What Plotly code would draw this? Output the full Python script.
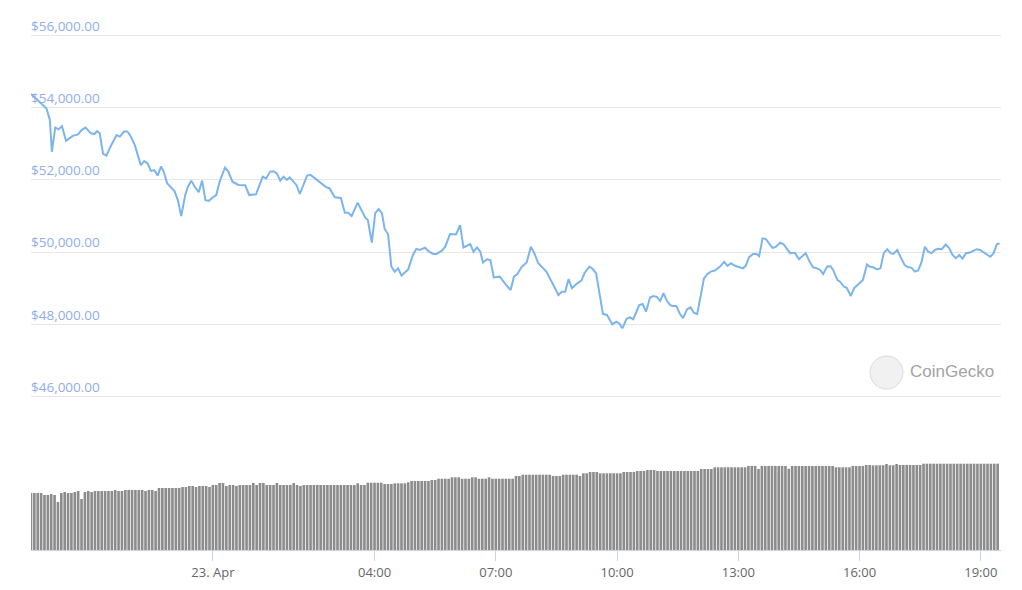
import pandas as pd
import plotly.graph_objects as go

# ---------------- data ----------------
times_22 = ["19:30", "19:45", "19:53", "19:58", "20:01", "20:06", "20:11", "20:16", "20:22", "20:27",
            "20:32", "20:40", "20:45", "20:51", "20:59", "21:04", "21:08", "21:12", "21:17", "21:22",
            "21:28", "21:37", "21:42", "21:48", "21:53", "21:57", "22:04", "22:13", "22:18", "22:23",
            "22:28", "22:33", "22:38", "22:43", "22:47", "22:52", "22:56", "23:03", "23:08", "23:13",
            "23:19", "23:23", "23:28", "23:33", "23:39", "23:44", "23:49", "23:54"]
prices_22 = [54380, 54120, 53980, 53660, 52780, 53450, 53400, 53490, 53080, 53150,
             53220, 53260, 53380, 53450, 53290, 53270, 53350, 53290, 52720, 52670,
             52920, 53240, 53200, 53340, 53340, 53240, 52970, 52410, 52520, 52460,
             52250, 52270, 52120, 52370, 52230, 51910, 51840, 51690, 51440, 51000,
             51580, 51810, 51980, 51810, 51660, 51980, 51440, 51420]

times_23 = ["00:00", "00:05", "00:10", "00:15", "00:18", "00:23", "00:29", "00:38", "00:48", "00:54",
            "01:04", "01:14", "01:19", "01:25", "01:30", "01:35", "01:40", "01:45", "01:50", "01:54",
            "01:59", "02:04", "02:09", "02:20", "02:25", "02:39", "02:48", "02:53", "03:01", "03:10",
            "03:16", "03:21", "03:26", "03:35", "03:41", "03:46", "03:50", "03:56", "04:01", "04:06",
            "04:11", "04:15", "04:20", "04:25", "04:30", "04:35", "04:40", "04:50", "04:57", "05:02",
            "05:07", "05:15", "05:21", "05:27", "05:32", "05:40", "05:45", "05:52", "06:01", "06:07",
            "06:12", "06:22", "06:27", "06:32", "06:37", "06:41", "06:47", "06:52", "06:57", "07:06",
            "07:14", "07:22", "07:27", "07:32", "07:38", "07:46", "07:52", "07:57", "08:03", "08:10",
            "08:15", "08:23", "08:33", "08:38", "08:43", "08:48", "08:53", "09:00", "09:07", "09:12",
            "09:19", "09:24", "09:29", "09:39", "09:45", "09:53", "09:59", "10:03", "10:08", "10:14",
            "10:19", "10:24", "10:33", "10:38", "10:43", "10:49", "10:54", "10:59", "11:04", "11:09",
            "11:14", "11:19", "11:23", "11:28", "11:33", "11:38", "11:44", "11:49", "11:54", "11:59",
            "12:04", "12:09", "12:14", "12:19", "12:25", "12:33", "12:39", "12:44", "12:49", "12:55",
            "13:02", "13:07", "13:11", "13:16", "13:22", "13:27", "13:31", "13:36", "13:41", "13:46",
            "13:51", "13:56", "14:02", "14:07", "14:12", "14:17", "14:24", "14:30", "14:40", "14:46",
            "14:51", "14:57", "15:02", "15:06", "15:12", "15:17", "15:21", "15:27", "15:31", "15:37",
            "15:41", "15:47", "15:52", "15:58", "16:05", "16:11", "16:15", "16:20", "16:26", "16:31",
            "16:36", "16:41", "16:46", "16:50", "16:56", "17:01", "17:07", "17:12", "17:17", "17:22",
            "17:27", "17:32", "17:37", "17:42", "17:47", "17:52", "17:57", "18:02", "18:08", "18:13",
            "18:18", "18:23", "18:28", "18:33", "18:38", "18:44", "18:49", "18:54", "18:59", "19:05",
            "19:14", "19:19", "19:24", "19:28"]
prices_23 = [51520, 51580, 51950, 52210, 52340, 52230, 51950, 51860, 51850, 51580,
             51600, 52090, 52040, 52230, 52240, 52180, 51980, 52090, 52000, 52070,
             51950, 51860, 51610, 52120, 52140, 51920, 51800, 51770, 51520, 51500,
             51090, 51090, 51000, 51370, 51120, 50960, 50890, 50260, 51080, 51190,
             51080, 50640, 50500, 49600, 49460, 49550, 49350, 49520, 49920, 50090,
             50060, 50120, 50010, 49950, 49950, 50040, 50150, 50500, 50490, 50750,
             50130, 50220, 50010, 50130, 50010, 49710, 49800, 49780, 49300, 49320,
             49120, 48950, 49320, 49390, 49580, 49720, 50150, 49980, 49690, 49540,
             49460, 49180, 48810, 48900, 48900, 49250, 49000, 49120, 49210, 49430,
             49600, 49530, 49410, 48290, 48260, 48000, 48070, 48030, 47890, 48150,
             48190, 48140, 48530, 48560, 48350, 48740, 48780, 48760, 48650, 48860,
             48650, 48530, 48510, 48510, 48300, 48170, 48420, 48470, 48320, 48280,
             48750, 49270, 49390, 49460, 49490, 49600, 49730, 49620, 49690, 49620,
             49580, 49550, 49620, 49860, 49950, 49950, 49890, 50380, 50360, 50240,
             50110, 50150, 50260, 50220, 50080, 49970, 49980, 49800, 49970, 49730,
             49580, 49550, 49500, 49390, 49600, 49610, 49500, 49230, 49180, 49040,
             49010, 48780, 49000, 49120, 49230, 49660, 49600, 49580, 49520, 49550,
             49970, 50080, 49970, 49950, 50060, 49860, 49640, 49580, 49570, 49460,
             49490, 49720, 50150, 50010, 49970, 50060, 50090, 50080, 50210, 50110,
             49920, 49830, 49920, 49820, 49970, 49990, 50030, 50080, 50060, 49990,
             49870, 49970, 50220, 50240]

# 5-minute volume bars (billions USD), first bar starts 22 Apr 19:30
volumes = [57.0, 57.0, 57.0, 57.0, 55.0, 55.0, 56.0, 55.0, 48.0, 57.0,
           58.0, 57.0, 57.0, 58.0, 59.0, 51.0, 58.0, 59.0, 58.0, 59.0,
           59.0, 59.0, 59.0, 59.0, 59.0, 60.0, 59.0, 59.0, 60.0, 60.0,
           60.0, 60.0, 60.0, 60.0, 59.0, 60.0, 60.0, 59.0, 62.0, 62.0,
           62.0, 62.0, 62.0, 62.0, 62.0, 63.0, 63.0, 64.0, 64.0, 63.0,
           64.0, 64.0, 64.0, 63.0, 65.0, 65.0, 67.0, 67.0, 64.0, 65.0,
           65.0, 64.0, 65.0, 65.0, 65.0, 65.0, 67.0, 65.0, 67.0, 67.0,
           65.0, 65.0, 65.0, 67.0, 65.0, 65.0, 65.0, 65.0, 67.0, 65.0,
           64.0, 65.0, 65.0, 65.0, 65.0, 65.0, 65.0, 65.0, 65.0, 65.0,
           65.0, 65.0, 65.0, 65.0, 65.0, 65.0, 65.0, 66.7, 65.0, 65.0,
           67.3, 67.3, 67.3, 67.3, 67.3, 66.0, 66.0, 66.0, 66.7, 66.7,
           66.7, 66.7, 67.7, 69.0, 69.0, 69.0, 69.0, 69.0, 69.0, 70.0,
           70.0, 71.3, 71.3, 71.3, 71.3, 72.7, 72.7, 72.7, 71.3, 71.3,
           71.3, 72.7, 72.7, 71.3, 71.3, 71.3, 72.7, 71.3, 71.3, 71.3,
           71.3, 71.3, 71.3, 71.3, 74.0, 74.0, 75.3, 75.3, 75.3, 75.3,
           75.3, 75.3, 75.3, 75.3, 75.3, 74.0, 74.0, 74.0, 75.3, 75.3,
           75.3, 75.3, 75.3, 74.0, 76.7, 76.7, 78.0, 78.0, 78.0, 76.7,
           76.7, 76.7, 76.7, 76.7, 76.7, 76.7, 78.0, 78.0, 78.0, 78.0,
           79.0, 79.0, 79.0, 80.0, 80.0, 80.0, 79.0, 79.0, 79.0, 79.0,
           79.0, 79.0, 79.0, 79.0, 79.0, 79.0, 79.0, 79.0, 79.0, 81.0,
           81.0, 81.0, 81.0, 82.7, 82.7, 82.7, 82.7, 82.7, 82.7, 82.7,
           82.7, 82.7, 82.7, 84.0, 84.0, 84.0, 81.0, 84.0, 84.0, 84.0,
           84.0, 84.0, 84.0, 84.0, 84.0, 81.3, 84.0, 84.0, 84.0, 84.0,
           84.0, 84.0, 84.0, 84.0, 84.0, 84.0, 84.0, 84.0, 84.0, 82.7,
           82.7, 82.7, 82.7, 82.7, 84.0, 84.0, 84.0, 84.0, 85.0, 85.0,
           84.7, 84.7, 84.7, 84.7, 86.0, 84.7, 84.7, 86.0, 85.0, 85.0,
           85.0, 85.0, 85.0, 85.0, 85.0, 86.3, 86.3, 86.3, 86.3, 86.3,
           86.3, 86.3, 86.3, 86.3, 86.3, 86.3, 86.3, 86.3, 86.3, 86.3,
           86.3, 86.3, 86.3, 86.3, 86.3, 86.3, 86.3, 86.3]

price_ticks = [46000, 48000, 50000, 52000, 54000, 56000]
x_tick_times = ["2021-04-23 00:00", "2021-04-23 04:00", "2021-04-23 07:00", "2021-04-23 10:00",
                "2021-04-23 13:00", "2021-04-23 16:00", "2021-04-23 19:00"]
x_tick_labels = ["23. Apr", "04:00", "07:00", "10:00", "13:00", "16:00", "19:00"]

# ---------------- build ----------------
price_x = ["2021-04-22 " + t for t in times_22] + ["2021-04-23 " + t for t in times_23]
price_y = prices_22 + prices_23
vol_x = pd.date_range("2021-04-22 19:30", periods=len(volumes), freq="5min")

FONT = "Open Sans"

fig = go.Figure()
fig.add_trace(go.Bar(
    x=vol_x, y=volumes, xaxis="x", yaxis="y2",
    xperiod=300000, xperiodalignment="start",
    marker=dict(color="#8c8c8c", line=dict(width=0)),
    hoverinfo="skip", showlegend=False,
))
fig.add_trace(go.Scatter(
    x=price_x, y=price_y, xaxis="x", yaxis="y", mode="lines",
    line=dict(color="#7cb5ec", width=2), showlegend=False,
))

# CoinGecko watermark
fig.add_shape(type="circle", xref="paper", yref="paper",
              x0=(870 - 31) / 970, x1=(903 - 31) / 970,
              y0=(550 - 389) / 530, y1=(550 - 356) / 530,
              fillcolor="#f1f1f1", line=dict(color="#dcdcdc", width=1), layer="below")
fig.add_annotation(text="CoinGecko", xref="paper", yref="paper",
                   x=(908 - 31) / 970, y=(550 - 371) / 530, xanchor="left", yanchor="middle",
                   showarrow=False, font=dict(family="Liberation Sans", size=17, color="#a3a3a3"))

# page body has an 8px margin: size/margins chosen so plot area lands at x 31-1001, y 20-550
fig.update_layout(
    width=1014, height=582,
    margin=dict(l=23, r=21, t=12, b=40, autoexpand=False),
    paper_bgcolor="white", plot_bgcolor="white",
    bargap=0.22,
    font=dict(family=FONT, size=13, color="#666666"),
    xaxis=dict(
        type="date", anchor="y2", domain=[0, 1], automargin=False,
        range=["2021-04-22 19:30", "2021-04-23 19:30"],
        tickvals=x_tick_times, ticktext=x_tick_labels,
        ticks="outside", ticklen=10, tickcolor="#ccd6eb", tickwidth=1,
        showline=True, linecolor="#ccd6eb", linewidth=1,
        showgrid=False, zeroline=False,
        tickfont=dict(family=FONT, size=13, color="#666666"),
    ),
    yaxis=dict(
        domain=[0.26919, 0.99118], range=[45700, 56300], automargin=False,
        tickvals=price_ticks, tickformat="$,.2f",
        ticklabelposition="inside top", ticklabeloverflow="allow",
        ticklabelstandoff=-3,
        tickfont=dict(family=FONT, size=13.5, color="#8fadea"),
        showgrid=True, gridcolor="#e6e6e6", gridwidth=1,
        zeroline=False, showline=False, ticks="",
    ),
    yaxis2=dict(
        domain=[0, 0.2], range=[0, 106], automargin=False,
        showgrid=False, showticklabels=False, zeroline=False, showline=False,
    ),
)

fig.write_html("out.html")
